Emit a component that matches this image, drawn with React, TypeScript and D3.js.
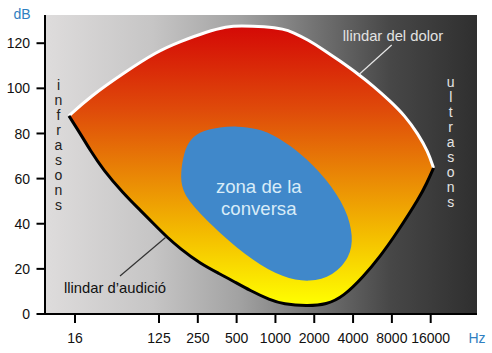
import React from 'react';
import * as d3 from 'd3';

const W = 492;
const H = 353;

// Axis ticks
const FREQ_TICKS = [16, 125, 250, 500, 1000, 2000, 4000, 8000, 16000];
const DB_TICKS = [0, 20, 40, 60, 80, 100, 120];

// Threshold of pain (llindar del dolor)
const painFreq = [13.8, 23.1, 52.2, 118.2, 182, 293, 419, 531, 830, 1165, 1369, 1789, 2380, 3169, 4371, 5713, 7738, 10117, 12765, 15254, 16830];
const painDb = [87.8, 96.3, 106.7, 116.3, 120.7, 125.1, 127.4, 127.8, 127.4, 126.3, 124.8, 121.5, 117.0, 112.1, 106.4, 101.1, 94.4, 87.8, 79.8, 71.9, 64.7];

// Threshold of hearing (llindar d'audició)
const hearFreq = [13.8, 18.1, 23.1, 32.0, 52.2, 78.5, 118.2, 144, 182, 260, 372, 469, 635, 908, 1151, 1748, 2499, 3360, 4805, 6470, 8724, 13225, 14910, 16830];
const hearDb = [87.8, 80.1, 72.7, 63.8, 53.5, 46.1, 38.6, 34.1, 29.0, 22.4, 17.7, 14.6, 10.4, 6.2, 4.4, 3.5, 4.2, 7.7, 16.5, 25.4, 35.8, 52.0, 57.9, 64.7];

// Speech zone (zona de la conversa) outline
const speechFreq = [503, 720, 908, 1551, 2499, 3571, 4018, 3787, 2796, 1854, 1145, 670, 372, 229, 187.5, 183.5, 195.3, 217.4, 274, 372];
const speechDb = [83.3, 82.1, 80.3, 71.9, 59.8, 46.3, 34.3, 25.1, 16.8, 14.0, 16.0, 23.5, 35.6, 47.6, 55.0, 62.5, 71.6, 77.6, 81.3, 82.8];

const INFRA = 'infrasons'.split('');
const ULTRA = 'ultrasons'.split('');

const FONT = 'Liberation Sans, Arial, Helvetica, sans-serif';

export default function App() {
  const left = 45, right = 477, top = 15, bottom = 314;
  const x = d3.scaleLog().domain([16, 125, 16000]).range([75, 159, 430.7]);
  const y = d3.scaleLinear().domain([0, 132.5]).range([bottom, top]);

  const pts = (f: number[], d: number[]) => f.map((v, i) => [x(v), y(d[i])] as [number, number]);
  const line = d3.line<[number, number]>().curve(d3.curveBasis);
  const closed = d3.line<[number, number]>().curve(d3.curveBasisClosed);

  const painP = pts(painFreq, painDb);
  const hearP = pts(hearFreq, hearDb);
  const painPath = line(painP) as string;
  const hearPath = line(hearP) as string;
  const areaPath = painPath + (line(hearP.slice().reverse()) as string).replace(/^M/, 'L') + 'Z';
  const speechPath = closed(pts(speechFreq, speechDb)) as string;

  return (
    <svg width={W} height={H} style={{ position: 'absolute', left: 0, top: 0, background: '#fff' }} fontFamily={FONT}>
      <defs>
        <linearGradient id="bg" x1={left} x2={right} y1={0} y2={0} gradientUnits="userSpaceOnUse">
          <stop offset="0" stopColor="#dedcdc" />
          <stop offset="0.25" stopColor="#c6c5c5" />
          <stop offset="0.45" stopColor="#a2a2a2" />
          <stop offset="0.62" stopColor="#747474" />
          <stop offset="0.8" stopColor="#474747" />
          <stop offset="1" stopColor="#2f2f2f" />
        </linearGradient>
        <linearGradient id="fill" x1={0} x2={0} y1={y(128)} y2={y(4)} gradientUnits="userSpaceOnUse">
          <stop offset="0" stopColor="#d40806" />
          <stop offset="0.3" stopColor="#df4a0a" />
          <stop offset="0.55" stopColor="#ea8a05" />
          <stop offset="0.75" stopColor="#f4bd00" />
          <stop offset="1" stopColor="#ffff00" />
        </linearGradient>
      </defs>

      <rect x={left} y={top} width={right - left} height={bottom - top} fill="url(#bg)" />

      <path d={areaPath} fill="url(#fill)" />
      <path d={speechPath} fill="#4088ca" />

      <path d={painPath} fill="none" stroke="#ffffff" strokeWidth={3} />
      <path d={hearPath} fill="none" stroke="#000000" strokeWidth={3} />

      {/* leader lines */}
      <line x1={391.7} y1={45} x2={359} y2={74.5} stroke="#e6e6e6" strokeWidth={1.2} />
      <line x1={120} y1={276} x2={165.5} y2={237.5} stroke="#333" strokeWidth={1.2} />

      <text x={393} y={41} textAnchor="middle" fontSize={14.8} fill="#e2e2e2">llindar del dolor</text>
      <text x={64} y={292.5} fontSize={14.8} fill="#111">llindar d’audició</text>

      <text x={258.8} y={192.7} textAnchor="middle" fontSize={18.6} fill="#d8ecf8">zona de la</text>
      <text x={258.8} y={215} textAnchor="middle" fontSize={18.6} fill="#d8ecf8">conversa</text>

      {INFRA.map((c, i) => (
        <text key={'i' + i} x={58.5} y={90 + i * 15} textAnchor="middle" fontSize={14} fill="#222">{c}</text>
      ))}
      {ULTRA.map((c, i) => (
        <text key={'u' + i} x={450.7} y={86.5 + i * 15} textAnchor="middle" fontSize={14} fill="#e4e4e4">{c}</text>
      ))}

      {/* axes */}
      <line x1={left} y1={top} x2={left} y2={bottom + 1} stroke="#000" strokeWidth={2} />
      <line x1={left - 1} y1={bottom} x2={right} y2={bottom} stroke="#000" strokeWidth={2} />
      {DB_TICKS.map((t) => (
        <g key={'y' + t}>
          <line x1={36.5} x2={left} y1={y(t)} y2={y(t)} stroke="#000" strokeWidth={2} />
          <text x={30} y={y(t)} dy="0.36em" textAnchor="end" fontSize={14} fill="#111">{t}</text>
        </g>
      ))}
      {FREQ_TICKS.map((t) => (
        <g key={'x' + t}>
          <line x1={x(t)} x2={x(t)} y1={bottom} y2={323} stroke="#000" strokeWidth={2} />
          <text x={x(t)} y={338} dy="0.36em" textAnchor="middle" fontSize={14} fill="#111">{t}</text>
        </g>
      ))}
      <text x={477} y={338} dy="0.36em" textAnchor="middle" fontSize={14} fill="#2f7fc1">Hz</text>
      <text x={22} y={14} dy="0.36em" textAnchor="middle" fontSize={14} fill="#2f7fc1">dB</text>
    </svg>
  );
}
